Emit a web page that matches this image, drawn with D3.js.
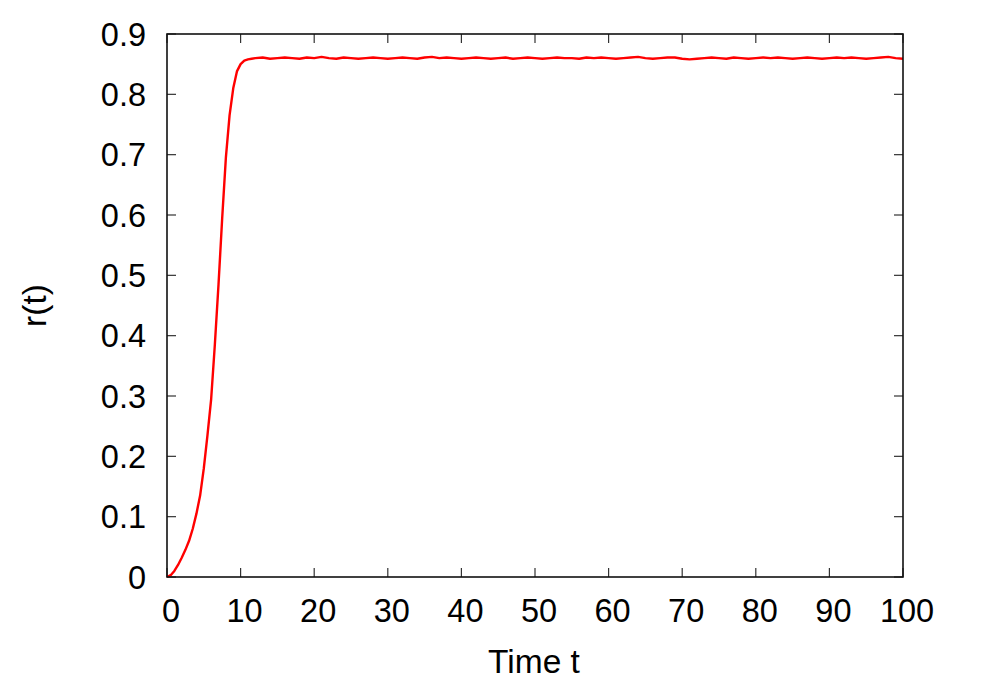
<!DOCTYPE html>
<html><head><meta charset="utf-8">
<script src="https://cdn.jsdelivr.net/npm/d3@7"></script>
<style>body{margin:0;background:#fff}svg text{font-family:"Liberation Sans",Arial,sans-serif}</style>
</head><body>
<script>
const times = [0,0.5,1,1.5,2,2.5,3,3.5,4,4.5,5,5.5,6,6.5,7,7.5,8,8.5,9,9.5,10,10.5,11,11.5,12,
  13,14,15,16,17,18,19,20,21,22,23,24,25,26,27,28,29,30,31,32,33,34,35,36,37,38,39,40,
  41,42,43,44,45,46,47,48,49,50,51,52,53,54,55,56,57,58,59,60,61,62,63,64,65,66,67,68,69,70,
  71,72,73,74,75,76,77,78,79,80,81,82,83,84,85,86,87,88,89,90,91,92,93,94,95,96,97,98,99,100];
const rValues = [0,0.003,0.010,0.020,0.032,0.045,0.060,0.080,0.105,0.135,0.180,0.235,0.295,0.385,0.485,0.595,0.695,0.765,0.810,0.838,0.850,0.856,0.858,0.859,0.860,
  0.861,0.859,0.860,0.861,0.860,0.859,0.861,0.860,0.862,0.860,0.859,0.861,0.860,0.859,0.860,0.861,0.860,0.859,0.860,0.861,0.860,0.859,0.861,0.862,0.860,0.861,0.860,0.859,
  0.860,0.861,0.860,0.859,0.860,0.861,0.859,0.860,0.861,0.860,0.859,0.860,0.861,0.860,0.860,0.859,0.861,0.860,0.861,0.860,0.859,0.860,0.861,0.862,0.860,0.859,0.860,0.861,0.861,0.859,0.858,0.859,
  0.860,0.861,0.860,0.859,0.861,0.860,0.859,0.860,0.861,0.860,0.861,0.860,0.859,0.860,0.861,0.860,0.859,0.860,0.861,0.860,0.861,0.860,0.859,0.860,0.861,0.862,0.860,0.859,0.860,0.859];
const xTicks = [0,10,20,30,40,50,60,70,80,90,100];
const yTicks = [0,0.1,0.2,0.3,0.4,0.5,0.6,0.7,0.8,0.9];
const xLabel = "Time t", yLabel = "r(t)";

const W = 981, H = 687;
const L = 167, R = 903, T = 34, B = 577;
const svg = d3.select("body").append("svg").attr("width", W).attr("height", H);
const x = d3.scaleLinear().domain([0,100]).range([L,R]);
const y = d3.scaleLinear().domain([0,0.9]).range([B,T]);
const tl = 9, fs = 32.5, fsl = 33.5, tc = "#333";

xTicks.forEach(v => {
  svg.append("line").attr("x1",x(v)).attr("x2",x(v)).attr("y1",B).attr("y2",B-tl).attr("stroke",tc).attr("stroke-width",1.2);
  svg.append("line").attr("x1",x(v)).attr("x2",x(v)).attr("y1",T).attr("y2",T+tl).attr("stroke",tc).attr("stroke-width",1.2);
  svg.append("text").attr("x",x(v)+4).attr("y",622).attr("text-anchor","middle").attr("font-size",fs).text(v);
});
yTicks.forEach(v => {
  svg.append("line").attr("x1",L).attr("x2",L+tl).attr("y1",y(v)).attr("y2",y(v)).attr("stroke",tc).attr("stroke-width",1.2);
  svg.append("line").attr("x1",R).attr("x2",R-tl).attr("y1",y(v)).attr("y2",y(v)).attr("stroke",tc).attr("stroke-width",1.2);
  svg.append("text").attr("x",146).attr("y",y(v)).attr("dy","0.36em").attr("text-anchor","end").attr("font-size",fs).text(v===0?"0":d3.format(".1f")(v));
});

const data = times.map((t,i)=>({t, r:rValues[i]}));
svg.append("path").datum(data)
  .attr("d", d3.line().x(d=>x(d.t)).y(d=>y(d.r)))
  .attr("fill","none").attr("stroke","#ff0000").attr("stroke-width",2.4).attr("stroke-linejoin","round");

svg.append("rect").attr("x",L).attr("y",T).attr("width",R-L).attr("height",B-T)
  .attr("fill","none").attr("stroke","#111").attr("stroke-width",1.6);

svg.append("text").attr("x",534).attr("y",673).attr("text-anchor","middle").attr("font-size",fsl).text(xLabel);
svg.append("text").attr("transform",`translate(46,${(T+B)/2}) rotate(-90)`).attr("text-anchor","middle").attr("font-size",fsl).text(yLabel);
</script>
</body></html>
